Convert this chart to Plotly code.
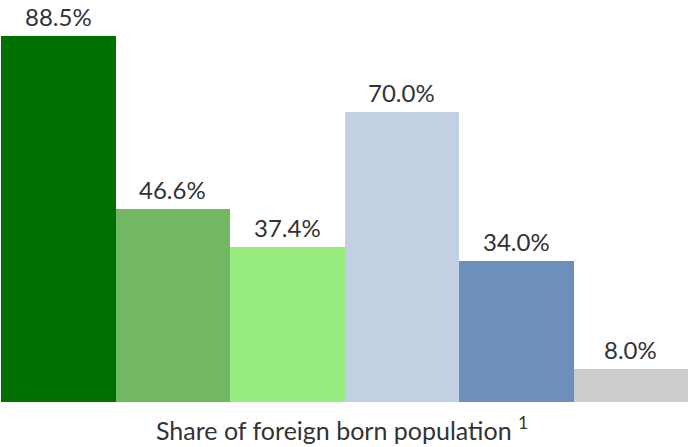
import plotly.graph_objects as go

categories = ["A", "B", "C", "D", "E", "F"]
values = [88.5, 46.6, 37.4, 70.0, 34.0, 8.0]
labels = ["88.5%", "46.6%", "37.4%", "70.0%", "34.0%", "8.0%"]
colors = ["#007000", "#72b862", "#98ec80", "#c3cfe2", "#6f8fbb", "#cbcccd"]

fig = go.Figure()
fig.add_trace(go.Bar(x=categories, y=values, marker=dict(color=colors, line=dict(width=0)),
                     hoverinfo="skip"))

for c, v, t in zip(categories, values, labels):
    fig.add_annotation(x=c, y=v, text=t, showarrow=False, yanchor="bottom", yshift=3,
                       font=dict(family="Lato", size=24, color="#333333"))

fig.add_annotation(x=0.497, y=0, xref="paper", yref="paper", yanchor="top", yshift=-9,
                   text="Share of foreign born population <sup>1</sup>", showarrow=False,
                   borderpad=0,
                   font=dict(family="Lato", size=25, color="#333333"))

fig.update_layout(
    width=689, height=447,
    margin=dict(l=1, r=1, t=0, b=45),
    bargap=0,
    plot_bgcolor="white", paper_bgcolor="white",
    showlegend=False,
    xaxis=dict(visible=False, range=[-0.5, 5.5]),
    yaxis=dict(visible=False, range=[0, 97.2]),
)
fig.write_html("out.html", config={"displayModeBar": False},
               post_script="document.body.style.margin='0';document.body.style.overflow='hidden';")
